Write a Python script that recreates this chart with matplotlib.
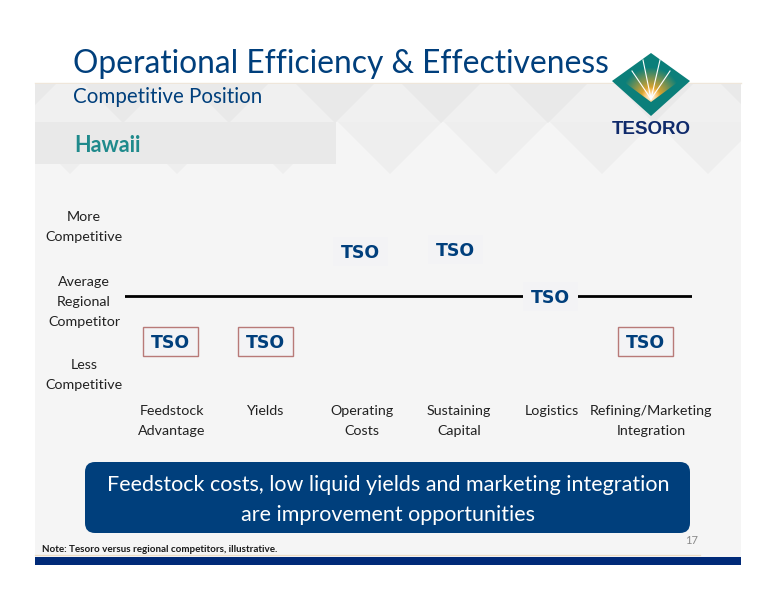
import numpy as np
import matplotlib
matplotlib.use('Agg')
import matplotlib.pyplot as plt
from matplotlib.patches import Polygon, Rectangle, FancyBboxPatch

# chart data
categories = ['Feedstock\nAdvantage', 'Yields', 'Operating\nCosts', 'Sustaining\nCapital',
              'Logistics', 'Refining/Marketing\nIntegration']
positions = [-1, -1, 1, 1.04, 0, -1]   # -1 less competitive, 0 average, 1 more competitive
boxed = [True, True, False, False, False, True]
label_nudge = [2, 1, 2, 4, 2, 6]
level_labels = ['More\nCompetitive', 'Average\nRegional\nCompetitor', 'Less\nCompetitive']
level_label_y = [228, 303, 376]

title = 'Operational Efficiency & Effectiveness'
subtitle = 'Competitive Position'
region = 'Hawaii'
message = 'Feedstock costs, low liquid yields and marketing integration\nare improvement opportunities'
note = 'Note: Tesoro versus regional competitors, illustrative.'
page = '17'

NAVY = '#003f7c'
TEAL = '#1f8a8c'
PANEL = '#f5f5f5'
BAND = '#e9e9e9'
TEXT = '#222222'
LOGO_TEAL = '#0b7f7a'

plt.rcParams['font.family'] = ['Lato', 'DejaVu Sans']

fig = plt.figure(figsize=(7.76, 6.0), dpi=100, facecolor='white')

# page furniture is laid out in pixels
bg = fig.add_axes([0, 0, 1, 1])
bg.set_xlim(0, 776)
bg.set_ylim(600, 0)
bg.axis('off')

panel = Rectangle((35, 83), 706, 482, fc=PANEL, ec='none', zorder=0)
bg.add_patch(panel)
bg.plot([35, 741], [83, 83], color='#efe6da', lw=1, zorder=1)

# faint diamonds along the top of the panel
bg.add_patch(Rectangle((35, 84), 706, 38, fc='#f0f0f0', ec='none', zorder=1))
for cx in [70, 177, 283, 390, 496, 602, 708]:
    tri = Polygon([(cx - 52, 122), (cx, 174), (cx + 52, 122)], fc='#eeeeee', ec='none', zorder=1)
    bg.add_patch(tri)
    tri.set_clip_path(panel)
for cx in [17, 123, 229, 335, 441, 548, 654, 760]:
    tri = Polygon([(cx - 39, 84), (cx + 39, 84), (cx, 123)], fc='#e9e9e9', ec='none', zorder=1)
    bg.add_patch(tri)
    tri.set_clip_path(panel)
bg.add_patch(Rectangle((35, 122), 301, 42, fc=BAND, ec='none', zorder=2))

bg.text(73, 64, title, color=NAVY, fontsize=22.9, ha='left', va='center')
bg.text(73, 97, subtitle, color=NAVY, fontsize=14.8, ha='left', va='center')
bg.text(74, 145, region, color=TEAL, fontsize=15.5, fontweight='bold', ha='left', va='center')

# logo
diamond = [(651, 53), (690, 81), (651, 116), (612, 81)]
bg.add_patch(Polygon(diamond, fc=LOGO_TEAL, ec='none', zorder=3))
yy, xx = np.mgrid[54:104:120j, 620:682:120j]
r = np.hypot(xx - 651, yy - 97)
white_mix = np.clip(1 - r / 10, 0, 1)[..., None]
rgba = np.zeros(r.shape + (4,))
rgba[..., :3] = np.array([0.97, 0.66, 0.14]) * (1 - white_mix) + white_mix
rgba[..., 3] = np.clip(1.3 - r / 23, 0, 1)
im = bg.imshow(rgba, extent=(620, 682, 104, 54), zorder=4, aspect='auto', interpolation='bilinear')
im.set_clip_path(Polygon([(651, 102), (620, 79), (651, 54), (682, 79)], transform=bg.transData))
bg.set_xlim(0, 776)
bg.set_ylim(600, 0)
for tx, ty in [(632, 71), (643, 60), (660, 60), (670, 71)]:
    bg.plot([651, tx], [99, ty], color='white', lw=0.8, zorder=5)
bg.text(651, 130, 'TESORO', color='#0f2a6b', fontsize=13.5, fontweight='bold',
        family='Liberation Sans', ha='center', va='center')

for lab, y in zip(level_labels, level_label_y):
    bg.text(84, y - 1, lab, color=TEXT, fontsize=10.3, ha='center', va='center', linespacing=1.78)

# callout, note and footer
bg.add_patch(FancyBboxPatch((93, 470), 589, 55, boxstyle='round,pad=8,rounding_size=10', fc=NAVY,
                            ec='none', zorder=2))
bg.text(388, 500, message, color='white', fontsize=15.5, ha='center', va='center', linespacing=1.57, zorder=3)
bg.text(42, 549, note, color='#1a1a1a', fontsize=7.1, fontweight='bold', ha='left', va='center')
bg.text(692, 540, page, color='#8a8a8a', fontsize=8, ha='center', va='center')
bg.plot([35, 700], [554.5, 554.5], color='#ecdcc4', lw=0.9)
bg.add_patch(Rectangle((35, 557), 706, 8, fc='#002a78', ec='none'))

# position chart: x is category index, y is competitive level (95 px per category, 45 px per level)
ax = fig.add_axes([125 / 776, 1 - 341 / 600, (692 - 125) / 776, (341 - 251) / 600])
ax.patch.set_alpha(0)
ax.set_xlim(-45 / 95.0, 522 / 95.0)
ax.set_ylim(-1, 1)
ax.axis('off')
ax.axhline(0, color='black', lw=2, zorder=1)

box_w = 55 / 95.0
box_h = 29 / 45.0
for i, (pos, has_box) in enumerate(zip(positions, boxed)):
    ax.add_patch(Rectangle((i - box_w / 2, pos - box_h / 2), box_w, box_h, fc='#f3f3f5',
                           ec='#b87a78' if has_box else 'none', lw=1, zorder=2, clip_on=False))
    ax.text(i, pos, 'TSO', color=NAVY, fontsize=12.5, fontweight='bold', family='DejaVu Sans',
            ha='center', va='center_baseline', zorder=3, clip_on=False)

for i, (cat, nudge) in enumerate(zip(categories, label_nudge)):
    ax.annotate(cat, (i, -1), xytext=(nudge * 0.72, -64 * 0.72), textcoords='offset points', color=TEXT,
                fontsize=10.3, ha='center', va='top', linespacing=1.78, annotation_clip=False)

fig.savefig('out.png', dpi=100)
